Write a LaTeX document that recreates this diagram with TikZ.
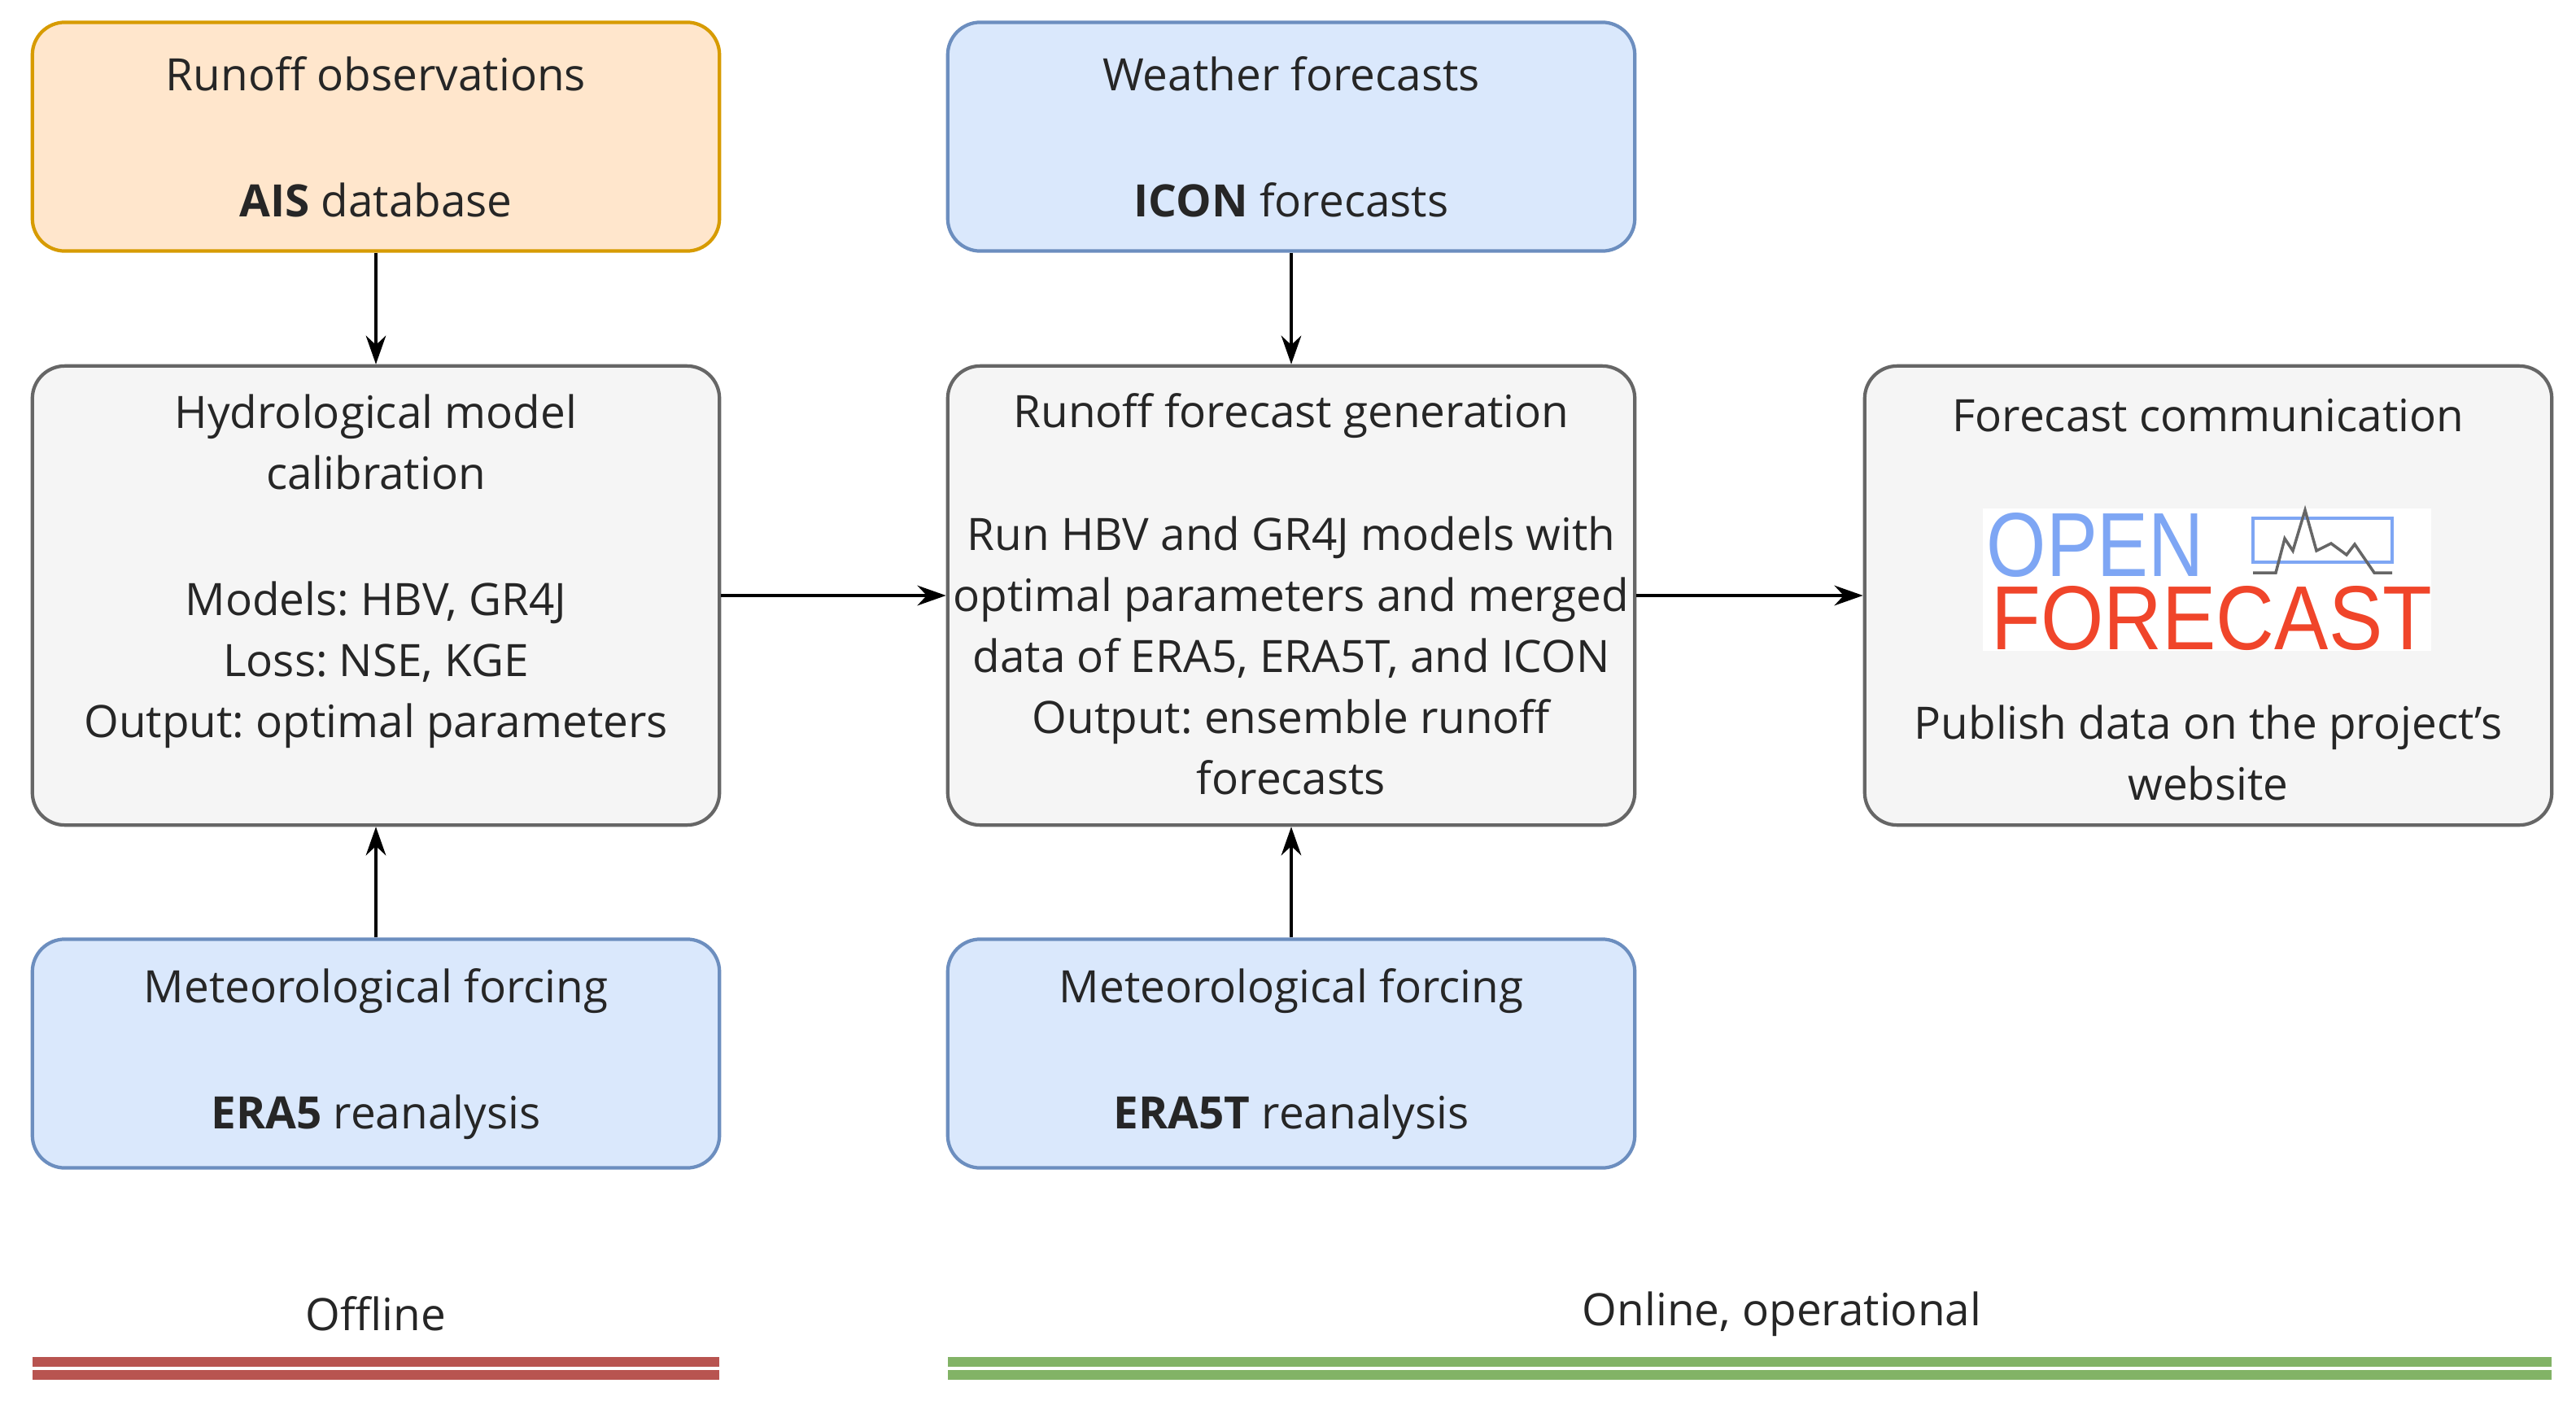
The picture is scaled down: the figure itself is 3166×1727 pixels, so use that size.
\documentclass[tikz,border=0pt]{standalone}
\usetikzlibrary{arrows.meta}
\usepackage{fontspec}
\setmainfont{Open Sans}
\newfontfamily\logofont{Liberation Sans}
\frenchspacing
\definecolor{orf}{HTML}{FFE6CC}\definecolor{ors}{HTML}{D79B00}
\definecolor{blf}{HTML}{DAE8FC}\definecolor{bls}{HTML}{6C8EBF}
\definecolor{grf}{HTML}{F5F5F5}\definecolor{grs}{HTML}{666666}
\definecolor{redl}{HTML}{B85450}\definecolor{grnl}{HTML}{82B366}
\definecolor{lblue}{HTML}{7EA6F4}\definecolor{lred}{HTML}{F0452A}
\begin{document}
\begin{tikzpicture}[x=0.01cm,y=-0.01cm,
  box/.style={draw,line width=1.2pt,rounded corners=0.4cm,minimum width=8.44cm,inner sep=0pt},
  small/.style={box,minimum height=2.81cm},
  big/.style={box,minimum height=5.64cm,draw=grs,fill=grf},
  txt/.style={font=\fontsize{15.6}{21.3}\selectfont\frenchspacing,align=center,inner sep=0pt,text=black!85},
  arr/.style={-{Stealth[length=10pt,width=7pt]},line width=1pt},
  bar/.style={line width=3.2pt}]
\useasboundingbox (0,0) rectangle (3166,1727);
\fill[white] (0,0) rectangle (3166,1727);
% boxes
\node[small,draw=ors,fill=orf] (obs) at (462,168) {};
\node[small,draw=bls,fill=blf] (wf) at (1587,168) {};
\node[big] (cal) at (462,732) {};
\node[big] (gen) at (1587,732) {};
\node[big] (com) at (2714,732) {};
\node[small,draw=bls,fill=blf] (era) at (462,1295) {};
\node[small,draw=bls,fill=blf] (erat) at (1587,1295) {};
% texts
\node[txt] (t1) at (462,91) {Runoff observations};
\node[txt] (t2) at (462,246) {\textbf{AIS} database};
\node[txt] (t3) at (1587,91) {Weather forecasts};
\node[txt] (t4) at (1587,246) {\textbf{ICON} forecasts};
\node[txt,anchor=north] (t5) at (462,484) {Hydrological model\\calibration};
\node[txt,anchor=north] (t6) at (462,714) {Models: HBV, GR4J\\Loss: NSE, KGE\\Output: optimal parameters};
\node[txt] (t7) at (1587,511) {Runoff forecast generation};
\node[txt,anchor=north] (t8) at (1587,634) {Run HBV and GR4J models with\\optimal parameters and merged\\data of ERA5, ERA5T, and ICON\\Output: ensemble runoff\\forecasts};
\node[txt] (t9) at (2714,511) {Forecast communication};
\node[txt,anchor=north] (t10) at (2714,866) {Publish data on the project{\char"0027}s\\website};
\node[txt] (t11) at (462,1218) {Meteorological forcing};
\node[txt] (t12) at (462,1373) {\textbf{ERA5} reanalysis};
\node[txt] (t13) at (1587,1218) {Meteorological forcing};
\node[txt] (t14) at (1587,1373) {\textbf{ERA5T} reanalysis};
\node[txt] (off) at (462,1615) {Offline};
\node[txt] (on) at (2190,1615) {Online, operational};
% logo
\fill[white] (2437,625) rectangle (2988,800);
\node[inner sep=0pt,anchor=south west,text=lblue] (open) at (2441,710) {\resizebox{2.67cm}{0.78cm}{\logofont OPEN}};
\node[inner sep=0pt,anchor=south west,text=lred] (fc) at (2447,800) {\resizebox{5.41cm}{0.78cm}{\logofont FORECAST}};
\draw[lblue,line width=1.2pt] (2769,637) rectangle (2940,691);
\draw[grs,line width=1pt] (2769,704) -- (2797,704) -- (2808,662) -- (2818,677) -- (2833,627) -- (2847,677) -- (2865,668) -- (2884,682) -- (2894,669) -- (2918,704) -- (2940,704);
% arrows
\draw[arr] (obs) -- (cal);
\draw[arr] (era) -- (cal);
\draw[arr] (wf) -- (gen);
\draw[arr] (erat) -- (gen);
\draw[arr] (cal) -- (gen);
\draw[arr] (gen) -- (com);
% bars
\coordinate (r1) at (40,1674); \coordinate (r2) at (884,1674);
\coordinate (r3) at (40,1690); \coordinate (r4) at (884,1690);
\coordinate (g1) at (1165,1674); \coordinate (g2) at (3136,1674);
\coordinate (g3) at (1165,1690); \coordinate (g4) at (3136,1690);
\draw[bar,redl] (r1) -- (r2); \draw[bar,redl] (r3) -- (r4);
\draw[bar,grnl] (g1) -- (g2); \draw[bar,grnl] (g3) -- (g4);
\end{tikzpicture}
\end{document}
